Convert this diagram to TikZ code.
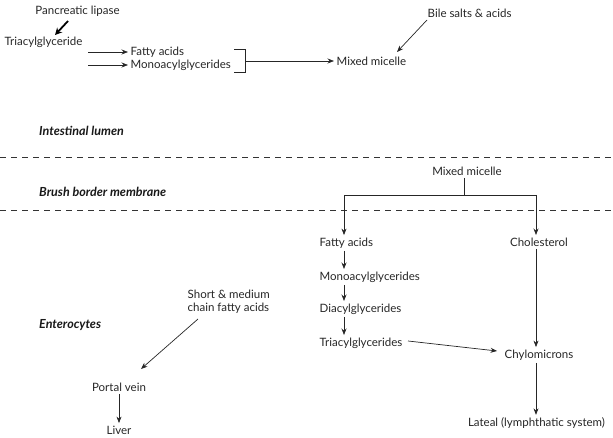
\documentclass[tikz,border=0pt]{standalone}
\usepackage{fontspec}
\setmainfont{Lato}
\usetikzlibrary{arrows.meta,calc}
\tikzset{
  lbl/.style={inner sep=2.5pt, text=black!85, font=\fontsize{11.5}{13}\selectfont},
  region/.style={inner sep=0pt, anchor=west, text=black!90, font=\fontsize{12.5}{14}\selectfont\bfseries\itshape},
  arr/.style={draw=black!85, line width=0.7pt, -{Stealth[length=6.5pt,width=5pt]}},
  plain/.style={draw=black!85, line width=0.7pt},
  boldarr/.style={draw=black, line width=1.8pt, -{Stealth[length=7pt,width=7pt]}},
  sep/.style={draw=black!80, line width=0.7pt, dash pattern=on 6pt off 5pt}
}
\begin{document}
\begin{tikzpicture}[x=1pt,y=-1pt]
\useasboundingbox (0,0) rectangle (613,438);
% region labels and separators
\node[region] (lumen) at (39,131) {Intestinal lumen};
\node[region] (brush) at (39,192) {Brush border membrane};
\node[region] (ent) at (39,325) {Enterocytes};
\coordinate (d1a) at (0,157); \coordinate (d1b) at (613,157);
\coordinate (d2a) at (0,210); \coordinate (d2b) at (613,210);
\draw[sep] (d1a) -- (d1b);
\draw[sep] (d2a) -- (d2b);
% lumen part
\node[lbl] (plip) at (77.5,11) {Pancreatic lipase};
\node[lbl] (tag) at (43.5,42) {Triacylglyceride};
\node[lbl,anchor=west] (fa1) at (128,52) {Fatty acids};
\node[lbl,anchor=west] (mag1) at (128,65) {Monoacylglycerides};
\node[lbl,anchor=west] (mm1) at (334,61) {Mixed micelle};
\node[lbl,anchor=west] (bile) at (425,13) {Bile salts \& acids};
\coordinate (pl1) at (68,21); \coordinate (pl2) at (55,35);
\draw[boldarr] (pl1) -- (pl2);
\coordinate (s1) at (88,52); \coordinate (s2) at (88,65);
\draw[arr] (s1) -- (fa1.west);
\draw[arr] (s2) -- (mag1.west);
\coordinate (b1) at (234,49); \coordinate (b2) at (245,49);
\coordinate (b3) at (245,72); \coordinate (b4) at (234,72);
\coordinate (bm) at (245,61);
\draw[plain] (b1) -- (b2) -- (b3) -- (b4);
\draw[arr] (bm) -- (mm1.west);
\coordinate (bs1) at (427,20); \coordinate (bs2) at (397,52);
\draw[arr] (bs1) -- (bs2);
% brush border
\node[lbl] (mm2) at (467,171) {Mixed micelle};
\coordinate (jx) at (464,195);
\coordinate (jl) at (344,195); \coordinate (jr) at (536,195);
% enterocytes
\node[lbl,anchor=west] (fa2) at (317,243) {Fatty acids};
\node[lbl,anchor=west] (mag2) at (317,277) {Monoacylglycerides};
\node[lbl,anchor=west] (dag) at (317,309) {Diacylglycerides};
\node[lbl,anchor=west] (tag2) at (317,343) {Triacylglycerides};
\node[lbl] (chol) at (539,242) {Cholesterol};
\node[lbl] (chyl) at (539,355) {Chylomicrons};
\node[lbl] (lat) at (536.5,423) {Lateal (lymphthatic system)};
\node[lbl,anchor=west,align=left] (scfa) at (185,301.5) {Short \& medium\\chain fatty acids};
\node[lbl] (pv) at (119,387) {Portal vein};
\node[lbl] (liver) at (119,430) {Liver};
\draw[plain] (mm2.south -| jx) -- (jx);
\draw[plain] (jl) -- (jr);
\draw[arr] (jl) -- (fa2.north -| jl);
\draw[arr] (jr) -- (chol.north -| jr);
\coordinate (cx) at (344,0);
\draw[arr] (fa2.south -| cx) -- (mag2.north -| cx);
\draw[arr] (mag2.south -| cx) -- (dag.north -| cx);
\draw[arr] (dag.south -| cx) -- (tag2.north -| cx);
\draw[arr] (chol.south -| jr) -- (chyl.north -| jr);
\draw[arr] (chyl.south -| jr) -- (lat.north -| jr);
\coordinate (t2a) at (408,341); \coordinate (t2b) at (497,351);
\draw[arr] (t2a) -- (t2b);
\coordinate (sc1) at (198,319); \coordinate (sc2) at (141,369);
\draw[arr] (sc1) -- (sc2);
\draw[arr] (pv.south) -- (liver.north);
\end{tikzpicture}
\end{document}
